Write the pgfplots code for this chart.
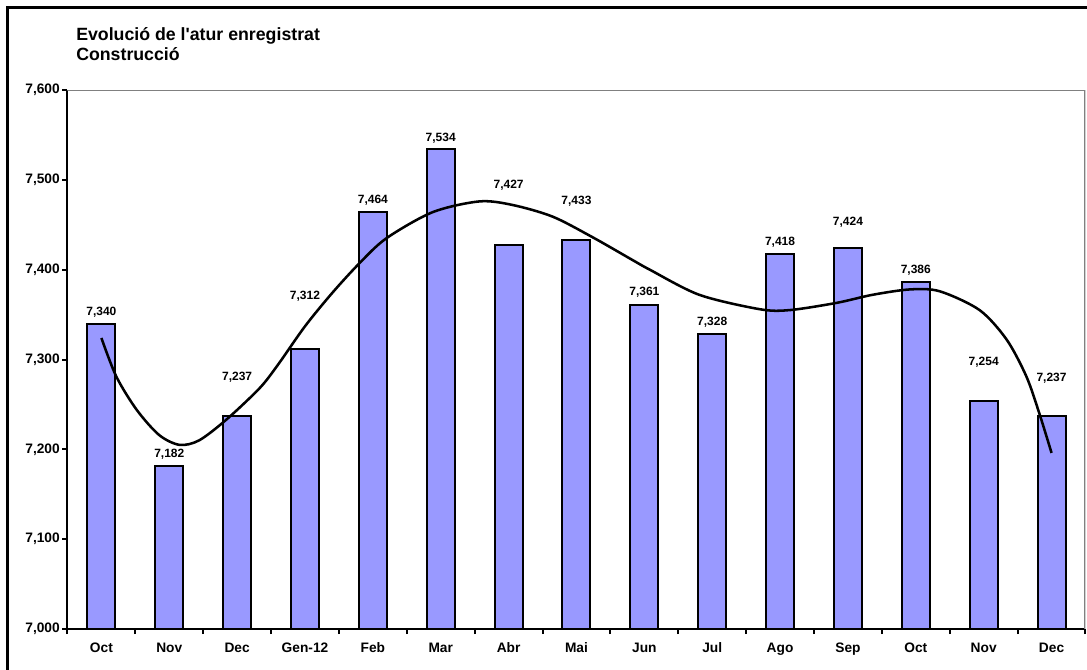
\documentclass[border=0pt]{standalone}
\usepackage{fontspec}
\setmainfont{Liberation Sans}
\usepackage{pgfplots}
\pgfplotsset{compat=1.18}
\definecolor{barblue}{HTML}{9999FF}
\definecolor{framegray}{HTML}{808080}
\begin{document}
\begin{tikzpicture}
\useasboundingbox (0,0) rectangle (815.25pt,501.75pt);
\draw[line width=2.25pt] (5.8pt,-5pt) -- (5.8pt,496pt) -- (830pt,496pt);
\node[anchor=base west, font=\bfseries\fontsize{13.3}{15}\selectfont, inner sep=0pt] at (57pt,471pt) {Evolució de l\textquotesingle atur enregistrat};
\node[anchor=base west, font=\bfseries\fontsize{13.3}{15}\selectfont, inner sep=0pt] at (57pt,456pt) {Construcció};
\begin{axis}[
  at={(50.6pt,30pt)}, anchor=south west,
  scale only axis, width=763.5pt, height=404.25pt,
  xmin=-0.5, xmax=14.5, ymin=7000, ymax=7600,
  axis lines*=left,
  axis line style={line width=1.5pt, black},
  xtick={-0.5,0.5,...,14.5},
  x tick label as interval,
  xticklabels={Oct,Nov,Dec,Gen-12,Feb,Mar,Abr,Mai,Jun,Jul,Ago,Sep,Oct,Nov,Dec},
  ytick={7000,7100,...,7600},
  tick align=outside, major tick length=3.75pt,
  tick style={black, line width=1.5pt},
  /pgf/number format/assume math mode=true,
  /pgf/number format/1000 sep={,},
  tick label style={font=\bfseries\fontsize{10.3}{12}\selectfont},
  x tick label style={yshift=-2.5pt, text height=7.5pt, text depth=2pt},
  y tick label style={xshift=1.5pt},
]
\addplot[ybar, bar width=21pt, fill=barblue, draw=black, line width=1.5pt] coordinates {
(0,7340) (1,7182) (2,7237) (3,7312) (4,7464) (5,7534) (6,7427) (7,7433)
(8,7361) (9,7328) (10,7418) (11,7424) (12,7386) (13,7254) (14,7237)};
\addplot[smooth, line width=1.9pt, black, mark=none] coordinates {
(0,7324) (0.22,7281) (0.52,7244) (0.85,7216) (1.15,7205) (1.44,7210) (1.84,7233)
(2.33,7268) (2.6,7294) (3.0,7337) (3.40,7374) (3.80,7407) (4.20,7435) (4.88,7464)
(5.57,7476) (6.06,7472) (6.65,7459) (7.24,7436) (7.82,7411) (8.08,7400) (8.81,7372)
(9.70,7356) (10.14,7355) (10.83,7363) (11.36,7372) (11.91,7378) (12.35,7376)
(12.94,7355) (13.34,7322) (13.63,7281) (13.82,7240) (14.0,7196)};
\addplot[draw=none, mark=none, point meta=explicit, nodes near coords,
  nodes near coords={\pgfmathprintnumber[assume math mode=true,1000 sep={,}]{\pgfplotspointmeta}},
  every node near coord/.style={anchor=center, inner sep=0pt, font=\bfseries\fontsize{9}{10}\selectfont}]
coordinates {
(0,7352.9) [7340] (1,7194.8) [7182] (2,7280) [7237] (3,7370) [7312]
(4,7477) [7464] (5,7545.8) [7534] (6,7494.2) [7427] (7,7476.4) [7433]
(8,7375.1) [7361] (9,7341.7) [7328] (10,7430.8) [7418] (11,7452.5) [7424]
(12,7399.3) [7386] (13,7297.2) [7254] (14,7279.4) [7237]};
\draw[framegray, line width=1.5pt] (rel axis cs:0,1) -- (rel axis cs:1,1) -- (rel axis cs:1,0);
\end{axis}
\end{tikzpicture}
\end{document}
